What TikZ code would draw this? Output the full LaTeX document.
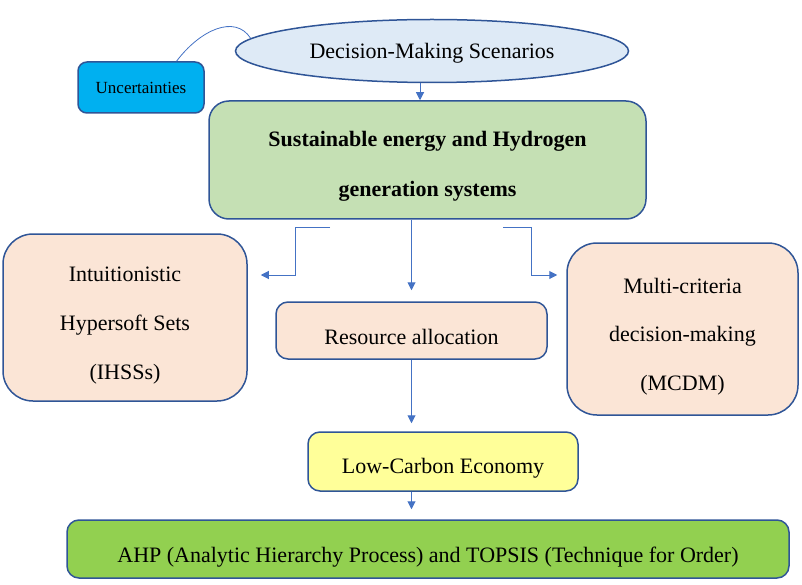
\documentclass[tikz,border=0pt]{standalone}
\usepackage{fontspec}
\setmainfont{Liberation Serif}
\usetikzlibrary{arrows.meta,shapes.geometric}

\definecolor{edgeblue}{HTML}{2F5597}
\definecolor{lineblue}{HTML}{4472C4}
\definecolor{scenfill}{HTML}{DEEAF6}
\definecolor{uncfill}{HTML}{00B0F0}
\definecolor{hydfill}{HTML}{C5E0B4}
\definecolor{peach}{HTML}{FBE5D6}
\definecolor{lcefill}{HTML}{FFFF99}
\definecolor{ahpfill}{HTML}{92D050}

\def\sinkht{28pt}
\newcommand{\sinkrule}{\rule{0pt}{\sinkht}}
\tikzset{
	sink/.code={\def\sinkht{#1}},
	box/.style={draw=edgeblue, line width=1.5pt, rounded corners=14pt, align=center,
		font=\fontsize{22}{49}\selectfont, inner sep=0pt},
	arr/.style={draw=lineblue, line width=1pt, -{Triangle[length=8pt,width=8pt]}},
	link/.style={draw=lineblue, line width=0.8pt}
}

\begin{document}
\begin{tikzpicture}[x=1pt,y=-1pt]
		\useasboundingbox (0,0) rectangle (802,585);
		
		\node[box, ellipse, sink=19pt, fill=scenfill, minimum width=393pt, minimum height=63pt] (scen) at (432,51) {\sinkrule Decision-Making Scenarios};
		\node[box, fill=uncfill, rounded corners=9pt, minimum width=126pt, minimum height=51pt,
			font=\fontsize{17}{20}\selectfont] (unc) at (141,87.5) {Uncertainties};
		\node[box, sink=28pt, fill=hydfill, rounded corners=20pt, minimum width=437pt, minimum height=118pt,
			font=\fontsize{22}{50}\selectfont\bfseries] (hyd) at (427.5,160) {\sinkrule Sustainable energy and Hydrogen\\generation systems};
		\node[box, sink=30pt, fill=peach, rounded corners=30pt, minimum width=244pt, minimum height=167pt] (ihss) at (125,317.5) {\sinkrule Intuitionistic\\Hypersoft Sets\\(IHSSs)};
		\node[box, sink=30pt, fill=peach, rounded corners=30pt, minimum width=231pt, minimum height=172pt,
			font=\fontsize{22}{48.5}\selectfont] (mcdm) at (682.5,329) {\sinkrule Multi-criteria\\decision-making\\(MCDM)};
		\node[box, sink=28pt, fill=peach, rounded corners=12pt, minimum width=271pt, minimum height=57pt] (res) at (411.5,330.5) {\sinkrule Resource allocation};
		\node[box, sink=29pt, fill=lcefill, rounded corners=12pt, minimum width=270pt, minimum height=59pt] (lce) at (443,461.5) {\sinkrule Low-Carbon Economy};
		\node[box, sink=31pt, fill=ahpfill, rounded corners=12pt, minimum width=722pt, minimum height=58pt] (ahp) at (428,549) {\sinkrule AHP (Analytic Hierarchy Process) and TOPSIS (Technique for Order)};
		
		% connectors
		\draw[link] ([xshift=35.5pt]unc.north) .. controls (200,30) and (235,14) .. (scen.176);
		\draw[arr] ([xshift=-12pt]scen.south) -- ([xshift=-12pt]scen.south |- hyd.north);
		\draw[arr, shorten >=11pt] (res.north |- hyd.south) -- (res.north);
		\draw[arr, shorten >=13pt] ([shift={(-97.5,8)}]hyd.south) -- ++(-35,0) |- ([shift={(0,-42.5)}]ihss.east);
		\draw[arr, shorten >=9pt] ([shift={(75.5,8)}]hyd.south) -- ++(28,0) |- ([shift={(0,-54)}]mcdm.west);
		\draw[arr, shorten >=8pt] (res.south) -- (res.south |- lce.north);
		\draw[arr, shorten >=10pt] (res.south |- lce.south) -- (res.south |- ahp.north);
	\end{tikzpicture}
\end{document}
